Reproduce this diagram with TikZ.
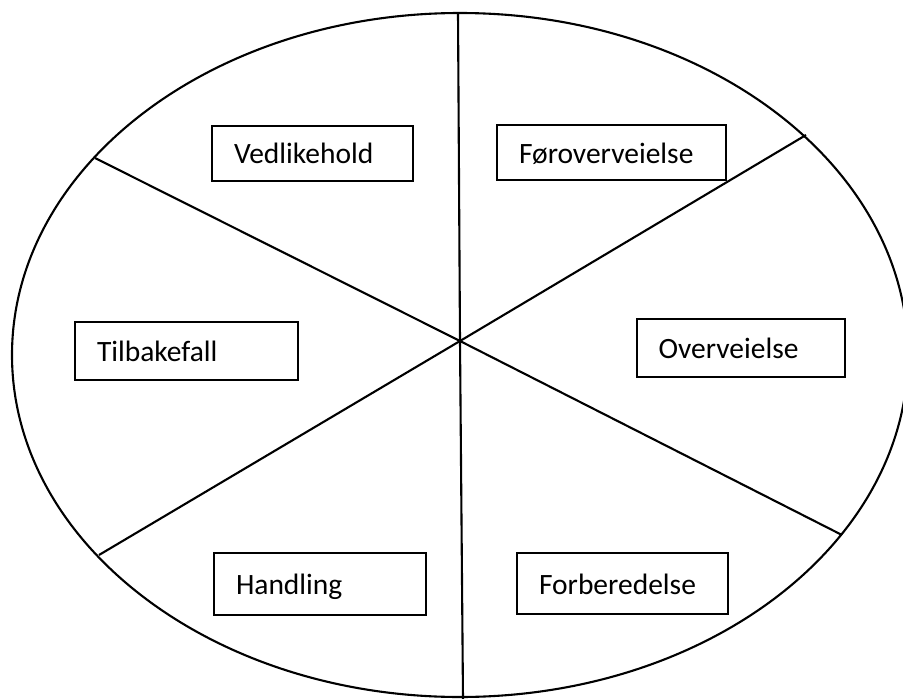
\documentclass[tikz,border=0pt]{standalone}
\usepackage{fontspec}
\setmainfont{Carlito}
\begin{document}
\begin{tikzpicture}[x=1pt,y=-1pt,
  outline/.style={line width=2.1pt, black},
  box/.style={draw, line width=2pt, fill=white, inner xsep=22pt, inner ysep=0pt,
    align=left, text height=21pt, text depth=0pt, font=\fontsize{29.5}{32}\selectfont},
]
\useasboundingbox (0,0) rectangle (903,699);
\fill[white] (0,0) rectangle (903,699);
% outer ellipse
\draw[outline] (460,355) ellipse [x radius=448, y radius=342];
% centre and rim points
\coordinate (c) at (460,341);
\coordinate (top) at (458,13);
\coordinate (bot) at (463,699);
\coordinate (ul) at (95,158);
\coordinate (lr) at (842,535);
\coordinate (ur) at (806,135);
\coordinate (ll) at (99,555);
\draw[outline] (top) -- (c) -- (bot);
\draw[outline] (ul) -- (c) -- (lr);
\draw[outline] (ur) -- (c) -- (ll);
% labels
\node[box, text width=157pt, minimum height=54.5pt] (ved) at (312.5,153.3) {Vedlikehold};
\node[box, text width=185pt, minimum height=55pt] (for) at (611.5,152.5) {Føroverveielse};
\node[box, text width=179pt, minimum height=58pt] (til) at (186.5,351) {Tilbakefall};
\node[box, text width=164pt, minimum height=58pt] (ove) at (740.5,348) {Overveielse};
\node[box, text width=168pt, minimum height=62pt] (han) at (320,584) {Handling};
\node[box, text width=167pt, minimum height=61pt] (fob) at (622.5,583.5) {Forberedelse};
\end{tikzpicture}
\end{document}
